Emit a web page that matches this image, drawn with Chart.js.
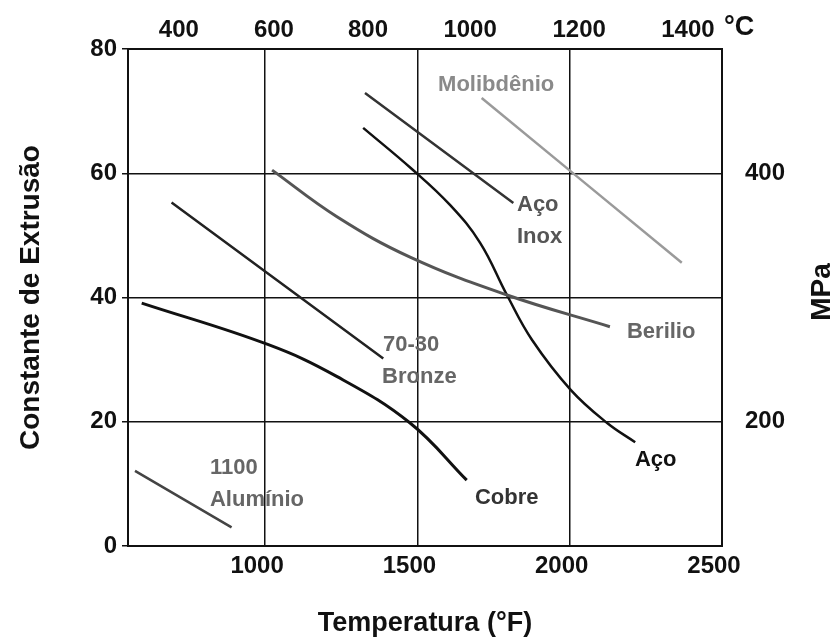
<!DOCTYPE html>
<html>
  <head>
    <script src="https://cdn.jsdelivr.net/npm/chart.js"></script>
    <title>Constante de Extrusão</title>
    <style>
      body {
        margin: 0;
        background-color: white;
      }
      .wrap {
        width: 837px;
        height: 640px;
        position: relative;
      }
    </style>
  </head>
  <body>
    <div class="wrap"><canvas id="myChart"></canvas></div>
    <script>
      // Ticks: bottom axis in ºF, top axis in ºC (placed where the picture puts them)
      var fTicks = [1000, 1500, 2000, 2500];
      var cTicks = ['400', '600', '800', '1000', '1200', '1400'];
      var cTicksAtF = [717, 1029, 1338, 1673, 2031, 2388];
      var kTicks = [0, 20, 40, 60, 80];
      var mpaTicks = ['200', '400'];
      var mpaTicksAtK = [20, 60];

      // Curves, temperature (ºF) and extrusion constant
      var aluminioF = [573, 890];
      var aluminioK = [12.1, 3.0];
      var bronzeF = [693, 1388];
      var bronzeK = [55.3, 30.2];
      var cobreF = [595, 1011, 1235, 1476, 1662];
      var cobreK = [39.1, 32.4, 27.3, 19.8, 10.6];
      var berilioF = [1023, 1236, 1476, 1794, 2132];
      var berilioK = [60.5, 53.0, 46.5, 40.4, 35.3];
      var inoxF = [1328, 1815];
      var inoxK = [72.9, 55.2];
      var acoF = [1322, 1479, 1607, 1706, 1794, 1876, 2004, 2123, 2215];
      var acoK = [67.3, 60.8, 54.9, 48.8, 40.4, 33.2, 25.1, 19.8, 16.7];
      var molibF = [1711, 2368];
      var molibK = [72.1, 45.6];

      // Curve labels, anchored in data units
      var labelText = ['Molibdênio', 'Aço', 'Inox', 'Berilio', '70-30', 'Bronze', '1100', 'Alumínio', 'Aço', 'Cobre'];
      var labelF = [1568, 1827, 1827, 2188, 1387, 1384, 819, 819, 2214, 1689];
      var labelK = [74.2, 54.9, 49.7, 34.4, 32.4, 27.2, 12.6, 7.4, 13.8, 7.7];
      var labelColor = ['#8a8a8a', '#555', '#555', '#666', '#666', '#666', '#666', '#666', '#111', '#333'];

      var FONT = '"Liberation Sans", Arial, sans-serif';
      var ink = '#111';

      function pts(xs, ys) {
        return xs.map(function(v, i) { return {x: v, y: ys[i]}; });
      }
      function line(name, xs, ys, color, width) {
        return {
          label: name,
          data: pts(xs, ys),
          borderColor: color,
          borderWidth: width,
          pointRadius: 0,
          fill: false,
          tension: 0.4
        };
      }

      var annotations = {
        id: 'annotations',
        afterDatasetsDraw: function(chart) {
          var ctx = chart.ctx;
          var x = chart.scales.x;
          var y = chart.scales.y;
          ctx.save();
          ctx.font = 'bold 22px ' + FONT;
          ctx.textAlign = 'left';
          ctx.textBaseline = 'middle';
          for (var i = 0; i < labelText.length; i++) {
            ctx.fillStyle = labelColor[i];
            ctx.fillText(labelText[i], x.getPixelForValue(labelF[i]), y.getPixelForValue(labelK[i]));
          }
          // right axis title, reads bottom to top
          ctx.fillStyle = ink;
          ctx.font = 'bold 28px ' + FONT;
          ctx.textAlign = 'center';
          ctx.translate(822, 292);
          ctx.rotate(-Math.PI / 2);
          ctx.fillText('MPa', 0, 0);
          ctx.restore();
          // unit of the top axis
          ctx.save();
          ctx.fillStyle = ink;
          ctx.font = 'bold 27px ' + FONT;
          ctx.textBaseline = 'alphabetic';
          ctx.fillText('°C', 724, 35);
          ctx.restore();
        }
      };

      var tickFont = {family: FONT, size: 24, weight: 'bold'};

      var ctx = document.getElementById('myChart').getContext('2d');
      var chart = new Chart(ctx, {
        type: 'line',
        data: {
          datasets: [
            line('1100 Alumínio', aluminioF, aluminioK, '#444', 2.5),
            line('70-30 Bronze', bronzeF, bronzeK, '#222', 2.5),
            line('Cobre', cobreF, cobreK, '#111', 3),
            line('Berilio', berilioF, berilioK, '#555', 3),
            line('Aço Inox', inoxF, inoxK, '#333', 2.5),
            line('Aço', acoF, acoK, '#111', 2.5),
            line('Molibdênio', molibF, molibK, '#9a9a9a', 2.5)
          ]
        },
        options: {
          responsive: true,
          maintainAspectRatio: false,
          animation: false,
          layout: { padding: 0 },
          plugins: {
            legend: { display: false },
            tooltip: { enabled: false }
          },
          scales: {
            x: {
              type: 'linear',
              position: 'bottom',
              min: 550,
              max: 2500,
              afterBuildTicks: function(s) { s.ticks = fTicks.map(function(v) { return {value: v}; }); },
              afterFit: function(s) { s.height = 94; },
              grid: { color: ink, lineWidth: 1.5, drawTicks: false },
              border: { color: ink, width: 2 },
              ticks: {
                font: tickFont, color: ink, padding: 6, labelOffset: -8, maxRotation: 0, autoSkip: false,
                callback: function(v) { return String(v); }
              },
              title: {
                display: true,
                text: 'Temperatura (°F)',
                color: ink,
                font: {family: FONT, size: 27, weight: 'bold'},
                padding: {top: 0, bottom: 0}
              }
            },
            x2: {
              type: 'linear',
              position: 'top',
              min: 550,
              max: 2500,
              afterBuildTicks: function(s) { s.ticks = cTicksAtF.map(function(v) { return {value: v}; }); },
              afterFit: function(s) { s.height = 49; },
              grid: { display: false, drawTicks: false },
              border: { display: true, color: ink, width: 2 },
              ticks: {
                font: tickFont, color: ink, padding: 4, maxRotation: 0, autoSkip: false,
                callback: function(v, i) { return cTicks[i]; }
              }
            },
            y: {
              position: 'left',
              min: 0,
              max: 80,
              afterBuildTicks: function(s) { s.ticks = kTicks.map(function(v) { return {value: v}; }); },
              afterFit: function(s) { s.width = 128; },
              grid: { color: ink, lineWidth: 1.5, tickLength: 6 },
              border: { color: ink, width: 2 },
              ticks: { font: tickFont, color: ink, padding: 5 },
              title: {
                display: true,
                text: 'Constante de Extrusão',
                color: ink,
                font: {family: FONT, size: 28, weight: 'bold'},
                padding: {top: 14, bottom: 0}
              }
            },
            y2: {
              position: 'right',
              min: 0,
              max: 80,
              afterBuildTicks: function(s) { s.ticks = mpaTicksAtK.map(function(v) { return {value: v}; }); },
              afterFit: function(s) { s.width = 115; },
              grid: { display: false, drawTicks: false },
              border: { display: true, color: ink, width: 2 },
              ticks: {
                font: tickFont, color: ink, padding: 23,
                callback: function(v, i) { return mpaTicks[i]; }
              }
            }
          }
        },
        plugins: [annotations]
      });
    </script>
  </body>
</html>
